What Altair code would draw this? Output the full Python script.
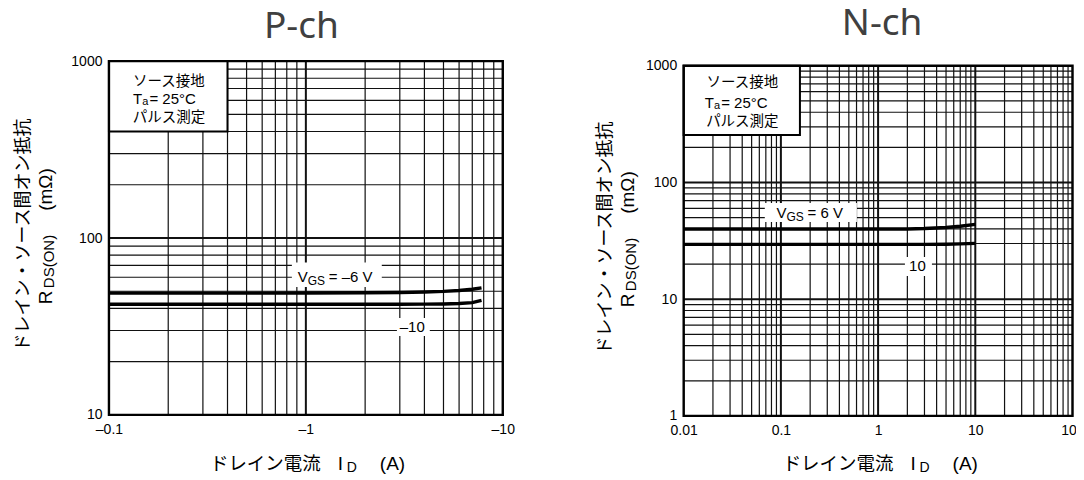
import altair as alt
import pandas as pd

# ---------------- values ----------------
# P-ch : drain current I_D (A) and on-resistance R_DS(ON) (mΩ)
p_id = [-0.1, -0.2, -0.5, -1, -2, -3, -4, -5, -6, -7, -7.8]
p_r_vgs_m6 = [48.8, 48.8, 48.8, 48.9, 49.0, 49.2, 49.5, 49.9, 50.5, 51.3, 52.3]
p_r_vgs_m10 = [42.2, 42.2, 42.2, 42.2, 42.2, 42.2, 42.3, 42.4, 42.6, 43.1, 44.4]

# N-ch
n_id_vgs6 = [0.01, 0.1, 1, 2, 3, 5, 7, 10]
n_r_vgs6 = [39.9, 39.9, 39.9, 40.0, 40.3, 41.2, 42.2, 43.8]
n_id_vgs10 = [0.01, 0.1, 1, 3, 5, 7, 10]
n_r_vgs10 = [29.5, 29.5, 29.5, 29.5, 29.6, 29.8, 30.1]

# ---------------- axes ----------------
p_x_domain = [-0.1, -10]
p_y_domain = [10, 1000]
n_x_domain = [0.01, 100]
n_y_domain = [1, 1000]

p_x_ticks = [-0.1, -1, -10]
p_x_labels = ["–0.1", "–1", "–10"]
p_y_ticks = [10, 100, 1000]
p_y_labels = ["10", "100", "1000"]
n_x_ticks = [0.01, 0.1, 1, 10, 100]
n_x_labels = ["0.01", "0.1", "1", "10", "100"]
n_y_ticks = [1, 10, 100, 1000]
n_y_labels = ["1", "10", "100", "1000"]

p_x_grid = [-0.1, -0.2, -0.3, -0.4, -0.5, -0.6, -0.7, -0.8, -0.9,
            -1, -2, -3, -4, -5, -6, -7, -8, -9, -10]
p_y_grid = [10, 20, 30, 40, 50, 60, 70, 80, 90,
            100, 200, 300, 400, 500, 600, 700, 800, 900, 1000]
n_x_grid = [0.01, 0.02, 0.03, 0.04, 0.05, 0.06, 0.07, 0.08, 0.09,
            0.1, 0.2, 0.3, 0.4, 0.5, 0.6, 0.7, 0.8, 0.9,
            1, 2, 3, 4, 5, 6, 7, 8, 9,
            10, 20, 30, 40, 50, 60, 70, 80, 90, 100]
n_y_grid = [1, 2, 3, 4, 5, 6, 7, 8, 9,
            10, 20, 30, 40, 50, 60, 70, 80, 90,
            100, 200, 300, 400, 500, 600, 700, 800, 900, 1000]
p_x_major = [-1]
p_y_major = [100]
n_x_major = [0.1, 1, 10]
n_y_major = [10, 100]

# ---------------- annotation anchors (data coordinates) ----------------
p_info_box = [-0.1, -0.4, 400, 1000]
n_info_box = [0.01, 0.157, 255, 1000]
p_label_boxes = [[-0.849, -2.43, 52.9, 72.6], [-2.90, -4.26, 27.9, 35.3]]
n_label_boxes = [[0.0683, 0.605, 45.8, 66.6], [1.888, 3.58, 15.8, 23.0]]
p_label_anchor = [(-0.910, 60.2), (-3.47, 31.4)]
n_label_anchor = [(0.0901, 54.7), (2.54, 19.2)]

JP = "Noto Sans CJK JP"
LAT = "Liberation Sans"
INK = "#000000"
GRID = "#111111"


def label_expr(ticks, labels):
    expr = "''"
    for t, l in zip(reversed(ticks), reversed(labels)):
        expr = f"(abs(datum.value - ({t})) < {abs(t) * 1e-6}) ? '{l}' : {expr}"
    return expr


def make_axis(ticks, labels, orient):
    return alt.Axis(values=ticks, labelExpr=label_expr(ticks, labels), orient=orient,
                    grid=False, ticks=False, domain=False, title=None,
                    labelFont=LAT, labelFontSize=14, labelColor=INK,
                    labelPadding=8 if orient == "bottom" else 7,
                    labelFlush=False, labelOverlap=False)


def pix_text(t, x, y, **mk):
    return alt.Chart(pd.DataFrame({"t": [t]})).mark_text(**mk).encode(
        x=alt.value(x), y=alt.value(y), text="t:N")


def panel(c):
    skw = dict(type="log", domain=c["ydom"], nice=False)
    if "yrange" in c:
        skw["range"] = c["yrange"]
    xs = alt.Scale(type="log", domain=c["xdom"], nice=False)
    ys = alt.Scale(**skw)
    xa = make_axis(c["xt"], c["xl"], "bottom")
    ya = make_axis(c["yt"], c["yl"], "left")

    def X(f):
        return alt.X(f, type="quantitative", scale=xs, axis=xa)

    def Y(f):
        return alt.Y(f, type="quantitative", scale=ys, axis=ya)

    layers = []
    vg = pd.DataFrame({"v": c["xg"], "y0": c["ydom"][0], "y1": c["ydom"][1],
                       "major": [v in c["xm"] for v in c["xg"]]})
    layers.append(alt.Chart(vg).mark_rule(color=GRID).encode(
        x=X("v"), y=Y("y0"), y2="y1",
        strokeWidth=alt.condition("datum.major", alt.value(2.0), alt.value(1.2))))
    hg = pd.DataFrame({"v": c["yg"], "x0": c["xdom"][0], "x1": c["xdom"][1],
                       "major": [v in c["ym"] for v in c["yg"]]})
    layers.append(alt.Chart(hg).mark_rule(color=GRID).encode(
        y=Y("v"), x=X("x0"), x2="x1",
        strokeWidth=alt.condition("datum.major", alt.value(2.0), alt.value(1.2))))

    layers.append(alt.Chart(c["curves"]).mark_line(color=INK, strokeWidth=3.4).encode(
        x=X("id"), y=Y("r"), detail="vgs:N"))

    lb = pd.DataFrame(c["lboxes"], columns=["x", "x2", "y", "y2"])
    layers.append(alt.Chart(lb).mark_rect(color="white").encode(
        x=X("x"), x2="x2", y=Y("y"), y2="y2"))

    for (ax, ay), parts in zip(c["lanchor"], c["lparts"]):
        for t, dx, dy, size, align in parts:
            d = pd.DataFrame({"x": [ax], "y": [ay], "t": [t]})
            layers.append(alt.Chart(d).mark_text(
                align=align, baseline="middle", dx=dx, dy=dy, font=LAT,
                fontSize=size, color=INK).encode(x=X("x"), y=Y("y"), text="t:N"))

    ib = c["ibox"]
    ibd = pd.DataFrame({"x": [ib[0]], "x2": [ib[1]], "y": [ib[2]], "y2": [ib[3]]})
    layers.append(alt.Chart(ibd).mark_rect(fill="white", stroke=INK, strokeWidth=2).encode(
        x=X("x"), x2="x2", y=Y("y"), y2="y2"))
    for t, dx, dy, font, size, align in c["iparts"]:
        d = pd.DataFrame({"x": [ib[0]], "y": [ib[3]], "t": [t]})
        layers.append(alt.Chart(d).mark_text(
            align=align, baseline="middle", dx=dx, dy=dy, font=font,
            fontSize=size, color=INK).encode(x=X("x"), y=Y("y"), text="t:N"))

    fr = pd.DataFrame({"x": [c["xdom"][0]], "x2": [c["xdom"][1]],
                       "y": [c["ydom"][0]], "y2": [c["ydom"][1]]})
    layers.append(alt.Chart(fr).mark_rect(fillOpacity=0, stroke=INK, strokeWidth=2.4).encode(
        x=X("x"), x2="x2", y=Y("y"), y2="y2"))

    # titles
    layers.append(pix_text(c["title"], c["tx"], c["ty"], font="Noto Sans", fontSize=37,
                           color="#404040", align="center", baseline="alphabetic"))
    # y-axis title (two rotated lines)
    yl1x, yl2x, yc = c["ytx"]
    layers.append(pix_text("ドレイン・ソース間オン抵抗", yl1x, yc - 3, font=JP, fontSize=18,
                           color=INK, angle=270, align="center", baseline="middle"))
    layers.append(pix_text("R", yl2x, yc + 59.5, font=LAT, fontSize=19,
                           color=INK, angle=270, align="center", baseline="middle"))
    layers.append(pix_text("DS(ON)", yl2x + 3, yc + 23.5, font=LAT, fontSize=15,
                           color=INK, angle=270, align="center", baseline="middle"))
    layers.append(pix_text("(mΩ)", yl2x, yc - 48.5, font=LAT, fontSize=19,
                           color=INK, angle=270, align="center", baseline="middle"))
    # x-axis title
    x0, xty = c["xtx"], c["xty"]
    layers.append(pix_text("ドレイン電流", x0, xty, font=JP, fontSize=18.5, color=INK,
                           align="left", baseline="middle"))
    layers.append(pix_text("I", x0 + 128, xty, font=LAT, fontSize=19, color=INK,
                           align="left", baseline="middle"))
    layers.append(pix_text("D", x0 + 137, xty + 4, font=LAT, fontSize=14, color=INK,
                           align="left", baseline="middle"))
    layers.append(pix_text("(A)", x0 + 170, xty, font=LAT, fontSize=19, color=INK,
                           align="left", baseline="middle"))

    return alt.layer(*layers).properties(width=c["w"], height=c["h"])


def curves_df(pairs):
    rows = []
    for name, ids, rs in pairs:
        for i, r in zip(ids, rs):
            rows.append({"vgs": name, "id": i, "r": r})
    return pd.DataFrame(rows)


left = panel(dict(
    xdom=p_x_domain, ydom=p_y_domain, xt=p_x_ticks, xl=p_x_labels, yt=p_y_ticks, yl=p_y_labels,
    xg=p_x_grid, yg=p_y_grid, xm=p_x_major, ym=p_y_major,
    curves=curves_df([("-6", p_id, p_r_vgs_m6), ("-10", p_id, p_r_vgs_m10)]),
    lboxes=p_label_boxes, lanchor=p_label_anchor,
    lparts=[[("V", 0, 0, 15, "left"), ("GS", 10, 4, 12, "left"), ("= –6 V", 31, 0, 15, "left")],
            [("–10", 0, 0, 15, "center")]],
    ibox=p_info_box,
    iparts=[("ソース接地", 60, 20.7, JP, 14.5, "center"),
            ("T", 24, 38.3, LAT, 15, "left"), ("a", 33.3, 41.3, LAT, 11, "left"),
            ("= 25°C", 40.5, 38.3, LAT, 15, "left"),
            ("パルス測定", 60, 57.3, JP, 14.5, "center")],
    title="P-ch", tx=192.5, ty=-23, ytx=(-85, -62.5, 177), xtx=101, xty=403,
    w=394, h=354))

right = panel(dict(
    xdom=n_x_domain, ydom=n_y_domain, xt=n_x_ticks, xl=n_x_labels, yt=n_y_ticks, yl=n_y_labels,
    xg=n_x_grid, yg=n_y_grid, xm=n_x_major, ym=n_y_major, yrange=[355, 4.7],
    curves=curves_df([("6", n_id_vgs6, n_r_vgs6), ("10", n_id_vgs10, n_r_vgs10)]),
    lboxes=n_label_boxes, lanchor=n_label_anchor,
    lparts=[[("V", 0, 0, 15, "left"), ("GS", 10, 4, 12, "left"), ("= 6 V", 31, 0, 15, "left")],
            [("10", 0, 0, 15, "center")]],
    ibox=n_info_box,
    iparts=[("ソース接地", 58.7, 17.3, JP, 14.5, "center"),
            ("T", 21, 37.3, LAT, 15, "left"), ("a", 30.3, 40.3, LAT, 11, "left"),
            ("= 25°C", 37.5, 37.3, LAT, 15, "left"),
            ("パルス測定", 58.7, 56.6, JP, 14.5, "center")],
    title="N-ch", tx=198.5, ty=-26, ytx=(-78, -55.5, 180), xtx=99, xty=403,
    w=389, h=355))

chart = alt.hconcat(left, right, spacing=82).properties(
    padding={"left": 7, "top": -3, "right": -8.5, "bottom": 4},
    background="white",
).configure_view(strokeOpacity=0)

chart.save("out.html", embed_options={"renderer": "svg", "actions": False})
